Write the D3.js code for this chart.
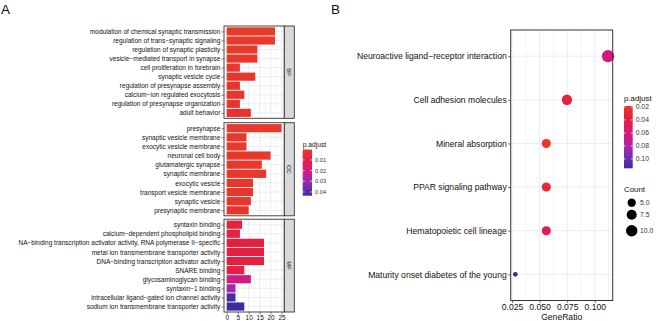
<!DOCTYPE html>
<html>
<head>
<meta charset="utf-8">
<script src="https://cdn.jsdelivr.net/npm/d3@7"></script>
<style>
  body { margin: 0; background: #fff; }
  svg { display: block; font-family: "Liberation Sans", Arial, sans-serif; }
</style>
</head>
<body>
<div id="chart"></div>
<script>
// ---- panel A data (GO enrichment) ----
const bpTerms = ["modulation of chemical synaptic transmission", "regulation of trans\u2212synaptic signaling",
  "regulation of synaptic plasticity", "vesicle\u2212mediated transport in synapse", "cell proliferation in forebrain",
  "synaptic vesicle cycle", "regulation of presynapse assembly", "calcium\u2212ion regulated exocytosis",
  "regulation of presynapse organization", "adult behavior"];
const bpCount = [22, 22, 14, 14, 6, 13, 6, 8, 6, 11];
const bpPadj = [0.0003, 0.0003, 0.0008, 0.0009, 0.001, 0.0012, 0.0015, 0.0016, 0.0018, 0.002];

const ccTerms = ["presynapse", "synaptic vesicle membrane", "exocytic vesicle membrane", "neuronal cell body",
  "glutamatergic synapse", "synaptic membrane", "exocytic vesicle", "transport vesicle membrane",
  "synaptic vesicle", "presynaptic membrane"];
const ccCount = [25, 9, 9, 20, 16, 18, 12, 12, 11, 10];
const ccPadj = [0.0002, 0.0005, 0.0005, 0.0006, 0.0008, 0.0009, 0.0012, 0.0012, 0.0015, 0.002];

const mfTerms = ["syntaxin binding", "calcium\u2212dependent phospholipid binding",
  "NA\u2212binding transcription activator activity, RNA polymerase II\u2212specific",
  "metal ion transmembrane transporter activity", "DNA\u2212binding transcription activator activity",
  "SNARE binding", "glycosaminoglycan binding", "syntaxin\u22121 binding",
  "intracellular ligand\u2212gated ion channel activity", "sodium ion transmembrane transporter activity"];
const mfCount = [7, 6, 17, 17, 17, 8, 11, 4, 4, 8];
const mfPadj = [0.008, 0.0085, 0.009, 0.009, 0.009, 0.0095, 0.02, 0.029, 0.042, 0.0435];

const xTicksA = [0, 5, 10, 15, 20, 25];
const padjTicksA = [0.01, 0.02, 0.03, 0.04];

// ---- panel B data (KEGG dot plot) ----
const keggTerms = ["Neuroactive ligand\u2212receptor interaction", "Cell adhesion molecules", "Mineral absorption",
  "PPAR signaling pathway", "Hematopoietic cell lineage", "Maturity onset diabetes of the young"];
const geneRatio = [0.1121, 0.0748, 0.0561, 0.0561, 0.0561, 0.0280];
const keggCount = [12, 8, 6, 6, 6, 3];
const keggPadj = [0.060, 0.037, 0.0185, 0.030, 0.052, 0.1145];

const xTicksB = [0.025, 0.05, 0.075, 0.1];
const padjTicksB = [0.02, 0.04, 0.06, 0.08, 0.10];
const countBreaks = [5, 7.5, 10];

// red -> blue gradient as it looks in the figure
const ramp = d3.scaleLinear()
  .domain([0, 0.2, 0.4, 0.55, 0.7, 0.85, 1])
  .range(["#e8392a", "#e4203f", "#d91a72", "#c21f97", "#9b2aae", "#6a2db0", "#3e2c9e"]);

const W = 660, H = 321;
const svg = d3.select("#chart").append("svg")
  .attr("width", W).attr("height", H);

svg.append("rect").attr("width", W).attr("height", H).attr("fill", "#fff");

svg.append("text").attr("x", 1).attr("y", 13.5).attr("font-size", "13.5px").attr("fill", "#111").text("A");
svg.append("text").attr("x", 331).attr("y", 13.5).attr("font-size", "13.5px").attr("fill", "#111").text("B");

const gridCol = "#ebebeb", borderCol = "#333";

// ================= panel A =================
const aLeft = 224, aRight = 284.3, stripW = 10;
const allPadjA = bpPadj.concat(ccPadj, mfPadj);
const maxCount = d3.max(bpCount.concat(ccCount, mfCount));
const colA = d3.scaleLinear().domain(d3.extent(allPadjA)).range([0, 1]);

const xA = d3.scaleLinear()
  .domain([-maxCount * 0.05, maxCount * 1.05])
  .range([aLeft, aRight]);

const facets = [
  { terms: bpTerms, counts: bpCount, padj: bpPadj, label: "BP", top: 26, bottom: 118.3 },
  { terms: ccTerms, counts: ccCount, padj: ccPadj, label: "CC", top: 122.7, bottom: 215.8 },
  { terms: mfTerms, counts: mfCount, padj: mfPadj, label: "MF", top: 219.2, bottom: 312 }
];

facets.forEach((f, fi) => {
  const g = svg.append("g");
  const y = d3.scalePoint().domain(f.terms).range([f.top, f.bottom]).padding(0.6);
  const bw = y.step() * 0.9;

  g.append("rect").attr("x", aLeft).attr("y", f.top)
    .attr("width", aRight - aLeft).attr("height", f.bottom - f.top).attr("fill", "#fff");

  g.selectAll("line.minor").data(d3.range(2.5, xA.domain()[1], 5)).enter().append("line")
    .attr("x1", d => xA(d)).attr("x2", d => xA(d)).attr("y1", f.top).attr("y2", f.bottom)
    .attr("stroke", gridCol).attr("stroke-width", 0.5);
  g.selectAll("line.major").data(xTicksA).enter().append("line")
    .attr("x1", d => xA(d)).attr("x2", d => xA(d)).attr("y1", f.top).attr("y2", f.bottom)
    .attr("stroke", gridCol).attr("stroke-width", 0.9);
  g.selectAll("line.hgrid").data(f.terms).enter().append("line")
    .attr("x1", aLeft).attr("x2", aRight).attr("y1", d => y(d)).attr("y2", d => y(d))
    .attr("stroke", gridCol).attr("stroke-width", 0.9);

  g.selectAll("rect.bar").data(f.terms).enter().append("rect")
    .attr("x", xA(0))
    .attr("y", d => y(d) - bw / 2)
    .attr("width", (d, i) => xA(f.counts[i]) - xA(0))
    .attr("height", bw)
    .attr("fill", (d, i) => ramp(colA(f.padj[i])));

  g.append("rect").attr("x", aLeft).attr("y", f.top)
    .attr("width", aRight - aLeft).attr("height", f.bottom - f.top)
    .attr("fill", "none").attr("stroke", borderCol).attr("stroke-width", 0.9);

  g.append("rect").attr("x", aRight).attr("y", f.top)
    .attr("width", stripW).attr("height", f.bottom - f.top)
    .attr("fill", "#d9d9d9").attr("stroke", borderCol).attr("stroke-width", 0.9);
  g.append("text")
    .attr("transform", `translate(${aRight + stripW / 2},${(f.top + f.bottom) / 2}) rotate(90)`)
    .attr("text-anchor", "middle").attr("dy", "0.35em")
    .attr("font-size", "6px").attr("fill", "#1a1a1a").text(f.label);

  const ay = g.append("g").attr("transform", `translate(${aLeft},0)`)
    .call(d3.axisLeft(y).tickSize(2.5).tickPadding(1.2));
  ay.select(".domain").remove();
  ay.selectAll("line").attr("stroke", borderCol).attr("stroke-width", 0.6);
  ay.selectAll("text").attr("font-size", "6.5px").attr("fill", "#111").attr("font-family", null);

  if (fi === facets.length - 1) {
    const ax = g.append("g").attr("transform", `translate(0,${f.bottom})`)
      .call(d3.axisBottom(xA).tickValues(xTicksA).tickSize(2.5).tickPadding(1));
    ax.select(".domain").remove();
    ax.selectAll("line").attr("stroke", borderCol).attr("stroke-width", 0.6);
    ax.selectAll("text").attr("font-size", "6.5px").attr("fill", "#111").attr("font-family", null);
  }
});

// colour bar legend
function colourBar(id, x, y0, y1, w, scale, ticks, fmt, title, titleY, titleSize, labSize) {
  const defs = svg.append("defs");
  const grad = defs.append("linearGradient").attr("id", id)
    .attr("x1", "0%").attr("x2", "0%").attr("y1", "0%").attr("y2", "100%");
  grad.selectAll("stop").data(d3.range(0, 1.0001, 0.05)).enter().append("stop")
    .attr("offset", d => (d * 100) + "%").attr("stop-color", d => ramp(d));
  svg.append("text").attr("x", x).attr("y", titleY).attr("font-size", titleSize)
    .attr("fill", "#111").text(title);
  svg.append("rect").attr("x", x).attr("y", y0).attr("width", w).attr("height", y1 - y0)
    .attr("fill", `url(#${id})`);
  const ly = d3.scaleLinear().domain(scale.domain()).range([y0, y1]);
  ticks.forEach(t => {
    const yy = ly(t);
    svg.append("line").attr("x1", x).attr("x2", x + w / 5).attr("y1", yy).attr("y2", yy)
      .attr("stroke", "#fff").attr("stroke-width", 0.7);
    svg.append("line").attr("x1", x + w - w / 5).attr("x2", x + w).attr("y1", yy).attr("y2", yy)
      .attr("stroke", "#fff").attr("stroke-width", 0.7);
    svg.append("text").attr("x", x + w + 3).attr("y", yy).attr("dy", "0.35em")
      .attr("font-size", labSize).attr("fill", "#333").text(fmt(t));
  });
}
colourBar("gradA", 302.7, 149.5, 195.7, 9.3, colA, padjTicksA, d3.format(".2f"), "p.adjust", 146.8, "6.7px", "5.7px");

// ================= panel B =================
const bLeft = 510.7, bRight = 612.7, bTop = 30, bBottom = 300.5;
const rExt = d3.extent(geneRatio);
const rPad = (rExt[1] - rExt[0]) * 0.05;
const xB = d3.scaleLinear().domain([rExt[0] - rPad, rExt[1] + rPad]).range([bLeft, bRight]);
const yB = d3.scalePoint().domain(keggTerms).range([bTop, bBottom]).padding(0.6);
const colB = d3.scaleLinear().domain(d3.extent(keggPadj)).range([0, 1]);

// ggplot-style area size: 1..6, then to pixel diameter
const cExt = d3.extent(keggCount);
const sizeOf = c => 1 + 5 * Math.sqrt(Math.max(0, (c - cExt[0]) / (cExt[1] - cExt[0])));
const radius = c => (1.52 * sizeOf(c) + 3.2) / 2;

const gB = svg.append("g");
gB.append("rect").attr("x", bLeft).attr("y", bTop).attr("width", bRight - bLeft)
  .attr("height", bBottom - bTop).attr("fill", "#fff");

const minorB = d3.range(0.0125, xB.domain()[1], 0.025).filter(d => d > xB.domain()[0]);
gB.selectAll("line.minor").data(minorB).enter().append("line")
  .attr("x1", d => xB(d)).attr("x2", d => xB(d)).attr("y1", bTop).attr("y2", bBottom)
  .attr("stroke", gridCol).attr("stroke-width", 0.5);
gB.selectAll("line.major").data(xTicksB).enter().append("line")
  .attr("x1", d => xB(d)).attr("x2", d => xB(d)).attr("y1", bTop).attr("y2", bBottom)
  .attr("stroke", gridCol).attr("stroke-width", 0.9);
gB.selectAll("line.hgrid").data(keggTerms).enter().append("line")
  .attr("x1", bLeft).attr("x2", bRight).attr("y1", d => yB(d)).attr("y2", d => yB(d))
  .attr("stroke", gridCol).attr("stroke-width", 0.9);

gB.selectAll("circle").data(keggTerms).enter().append("circle")
  .attr("cx", (d, i) => xB(geneRatio[i]))
  .attr("cy", d => yB(d))
  .attr("r", (d, i) => radius(keggCount[i]))
  .attr("fill", (d, i) => ramp(colB(keggPadj[i])));

gB.append("rect").attr("x", bLeft).attr("y", bTop).attr("width", bRight - bLeft)
  .attr("height", bBottom - bTop).attr("fill", "none").attr("stroke", borderCol).attr("stroke-width", 1);

const byAx = gB.append("g").attr("transform", `translate(${bLeft},0)`)
  .call(d3.axisLeft(yB).tickSize(2.5).tickPadding(1.5));
byAx.select(".domain").remove();
byAx.selectAll("line").attr("stroke", borderCol).attr("stroke-width", 0.7);
byAx.selectAll("text").attr("font-size", "8.6px").attr("fill", "#111").attr("font-family", null);

const bxAx = gB.append("g").attr("transform", `translate(0,${bBottom})`)
  .call(d3.axisBottom(xB).tickValues(xTicksB).tickFormat(d3.format(".3f")).tickSize(2.5).tickPadding(1));
bxAx.select(".domain").remove();
bxAx.selectAll("line").attr("stroke", borderCol).attr("stroke-width", 0.7);
bxAx.selectAll("text").attr("font-size", "8.6px").attr("fill", "#111").attr("font-family", null);

svg.append("text").attr("x", (bLeft + bRight) / 2).attr("y", 319.5).attr("text-anchor", "middle")
  .attr("font-size", "8.6px").attr("fill", "#111").text("GeneRatio");

colourBar("gradB", 624, 106, 168.3, 8.7, colB, padjTicksB, d3.format(".2f"), "p.adjust", 101.3, "7.9px", "6.8px");

// size legend
svg.append("text").attr("x", 624).attr("y", 191.5).attr("font-size", "7.9px").attr("fill", "#111").text("Count");
const sizeY = d3.scaleOrdinal().domain(countBreaks).range([202.7, 214.7, 230.7]);
svg.selectAll("circle.leg").data(countBreaks).enter().append("circle")
  .attr("cx", 631.7).attr("cy", d => sizeY(d)).attr("r", d => radius(d)).attr("fill", "#000");
svg.selectAll("text.leg").data(countBreaks).enter().append("text")
  .attr("x", 640).attr("y", d => sizeY(d)).attr("dy", "0.35em")
  .attr("font-size", "6.8px").attr("fill", "#333").text(d => d3.format(".1f")(d));
</script>
</body>
</html>
